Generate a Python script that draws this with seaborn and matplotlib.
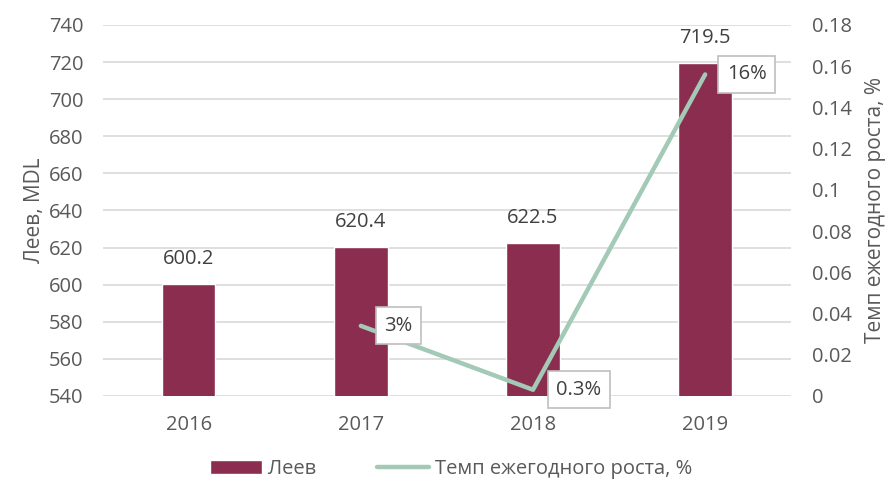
import numpy as np
import matplotlib
matplotlib.use('Agg')
import matplotlib.pyplot as plt
import pandas as pd
import seaborn as sns

# data
years = ['2016', '2017', '2018', '2019']
lei = [600.2, 620.4, 622.5, 719.5]
growth_years = ['2017', '2018', '2019']
growth = [0.034, 0.003, 0.156]
growth_labels = ['3%', '0.3%', '16%']

bar_color = '#8B2D4E'
line_color = '#A3C9B7'
text_color = '#595959'
fs = 14.5

sns.set_theme(style='white')
plt.rcParams['font.family'] = ['Open Sans', 'DejaVu Sans']
plt.rcParams['font.size'] = fs

df = pd.DataFrame({'year': years, 'lei': lei})
gdf = pd.DataFrame({'year': growth_years, 'growth': growth})
gdf['pos'] = [years.index(y) for y in growth_years]

fig = plt.figure(figsize=(8.93, 4.9), dpi=100)
ax = fig.add_axes([0.115, 0.192, 0.771, 0.757])

sns.barplot(data=df, x='year', y='lei', color=bar_color, width=0.31,
            saturation=1, ax=ax, label='Леев')
if ax.get_legend() is not None:
    ax.get_legend().remove()
ax.set_ylim(540, 740)
ax.set_yticks(np.arange(540, 741, 20))
ax.set_xlim(-0.5, 3.5)
ax.grid(axis='y', color='#D9D9D9', lw=1.2)
ax.set_axisbelow(True)
for s in ax.spines.values():
    s.set_visible(False)
ax.tick_params(axis='y', length=0, pad=14, colors=text_color, labelsize=fs)
ax.tick_params(axis='x', length=0, pad=14, colors=text_color, labelsize=fs)
ax.set_xlabel('')
ax.set_ylabel('Леев, MDL', color=text_color, fontsize=15, labelpad=3)

for i, v in enumerate(lei):
    ax.annotate(f'{v:.1f}', (i, v), xytext=(0, 11), textcoords='offset points',
                ha='center', va='bottom', color='#404040', fontsize=fs)

ax2 = ax.twinx()
sns.lineplot(data=gdf, x='pos', y='growth', color=line_color, lw=3.2, ax=ax2,
             label='Темп ежегодного роста, %', legend=False)
ax2.set_ylim(0, 0.18)
ax2.set_yticks(np.arange(0, 0.181, 0.02))
ax2.set_yticklabels(['0', '0.02', '0.04', '0.06', '0.08', '0.1', '0.12',
                     '0.14', '0.16', '0.18'])
ax2.set_xlim(-0.5, 3.5)
for s in ax2.spines.values():
    s.set_visible(False)
ax2.tick_params(axis='y', length=0, pad=15, colors=text_color, labelsize=fs)
ax2.set_ylabel('Темп ежегодного роста, %', color=text_color, fontsize=15,
               labelpad=9)
ax2.set_xlabel('')

offsets = [27, 33, 30]
for p, g, lab, off in zip(gdf['pos'], growth, growth_labels, offsets):
    ax2.annotate(lab, (p, g), xytext=(off, 0), textcoords='offset points',
                 ha='center', va='center', color='#404040', fontsize=fs,
                 bbox=dict(boxstyle='square,pad=0.42', fc='white',
                           ec='#BFBFBF', lw=1.2))

h1, l1 = ax.get_legend_handles_labels()
h2, l2 = ax2.get_legend_handles_labels()
fig.legend(h1 + h2, l1 + l2, loc='lower center', bbox_to_anchor=(0.505, -0.015),
           ncol=2, frameon=False, handlelength=2.6, columnspacing=3,
           fontsize=fs, labelcolor=text_color, handletextpad=0.3)

fig.savefig('out.png', dpi=100)
